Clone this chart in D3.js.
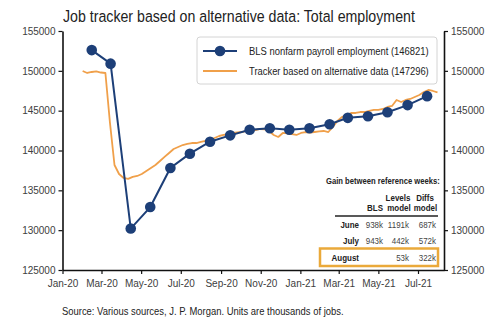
<!DOCTYPE html>
<html>
<head>
<meta charset="utf-8">
<script src="https://cdn.jsdelivr.net/npm/d3@7"></script>
<style>
  body { margin: 0; background: #fff; }
  svg { display: block; font-family: "Liberation Sans", Arial, sans-serif; }
</style>
</head>
<body>
<div id="chart"></div>
<script>
// BLS nonfarm payroll (thousands), reference month
const blsMonths = ["2020-02", "2020-03", "2020-04", "2020-05", "2020-06", "2020-07", "2020-08", "2020-09",
  "2020-10", "2020-11", "2020-12", "2021-01", "2021-02", "2021-03", "2021-04", "2021-05", "2021-06", "2021-07"];
const blsValues = [152600, 150900, 130200, 132900, 137800, 139600, 141100, 141900,
  142600, 142800, 142600, 142800, 143300, 144100, 144300, 144800, 145700, 146821];

// Alternative data tracker, weekly from 1 Feb 2020
const trackerStart = "2020-02-01";
const trackerValues = [
  149980, 149730, 149855, 149920, 149790, 149730, 143500, 138180, 137050, 136550,
  136430, 136680, 136800, 137050, 137430, 137810, 138180, 138680, 139190, 139690,
  140190, 140440, 140690, 140820, 140940, 140940, 141070, 141200, 141320, 141570,
  141820, 141950, 142070, 142200, 142260, 142320, 142450, 142510, 142570, 142700,
  142640, 142450, 141950, 141700, 142200, 142140, 142070, 141950, 142200, 142320,
  142260, 142320, 142390, 142450, 142320, 142950, 143700, 144200, 144460, 144710,
  144710, 144830, 144830, 144960, 145090, 145090, 145210, 145460, 145590, 146340,
  146090, 146340, 146470, 146720, 146970, 147340, 147600, 147470, 147296];

const yTicks = [125000, 130000, 135000, 140000, 145000, 150000, 155000];
const xTickMonths = ["2020-01", "2020-03", "2020-05", "2020-07", "2020-09", "2020-11",
  "2021-01", "2021-03", "2021-05", "2021-07"];

const seriesNames = ["BLS nonfarm payroll employment (146821)", "Tracker based on alternative data (147296)"];

// Table of gains between reference weeks
const tableMonths = ["June", "July", "August"];
const tableBLS = ["938k", "943k", ""];
const tableLevels = ["1191k", "442k", "53k"];
const tableDiffs = ["687k", "572k", "322k"];

const navy = "#1d3f78";
const orange = "#f0a04a";

const width = 500, height = 323;
const parseMonth = d3.timeParse("%Y-%m");
const parseDay = d3.timeParse("%Y-%m-%d");

const blsData = blsMonths.map((m, i) => ({date: d3.timeDay.offset(parseMonth(m), 14), value: blsValues[i]}));
const trackerData = trackerValues.map((v, i) => ({date: d3.timeWeek.offset(parseDay(trackerStart), i), value: v}));

const svg = d3.select("#chart").append("svg")
  .attr("width", width)
  .attr("height", height);

// squeeze a text horizontally so it spans the given width (narrow font look)
function fitText(sel, x, y, w) {
  sel.each(function() {
    const k = w / this.getComputedTextLength();
    d3.select(this).attr("transform", `translate(${x},${y}) scale(${k},1)`);
  });
}

// small table text, narrow look, anchored at x
function narrowText(g, str, x, y, anchor, bold, colour) {
  return g.append("text")
    .attr("transform", `translate(${x},${y}) scale(0.84,1)`)
    .attr("text-anchor", anchor)
    .attr("font-weight", bold ? "bold" : "normal")
    .attr("fill", colour)
    .text(str);
}

// Scales
const x = d3.scaleTime()
  .domain([parseDay("2020-01-01"), parseDay("2021-08-10")])
  .range([62.5, 444]);

const y = d3.scaleLinear()
  .domain([125000, 155000])
  .range([270, 31]);

// Title
svg.append("text")
  .attr("font-size", 16.5)
  .attr("fill", "#222")
  .text("Job tracker based on alternative data: Total employment")
  .call(fitText, 63, 21.5, 352);

// Axes
function styleAxis(g) {
  g.selectAll(".domain").attr("stroke", "#111").attr("stroke-width", 1.6);
  g.selectAll(".tick line").attr("stroke", "#111").attr("stroke-width", 1.2);
  g.selectAll(".tick text").attr("fill", "#404040").attr("font-size", 10)
    .attr("font-family", "Liberation Sans, Arial, sans-serif");
}

svg.append("g")
  .attr("transform", "translate(62.5,0)")
  .call(d3.axisLeft(y).tickValues(yTicks).tickSize(4).tickSizeOuter(0).tickFormat(d3.format("d")))
  .call(styleAxis);

svg.append("g")
  .attr("transform", "translate(444,0)")
  .call(d3.axisRight(y).tickValues(yTicks).tickSize(4).tickSizeOuter(0).tickFormat(d3.format("d")))
  .call(styleAxis);

svg.append("g")
  .attr("transform", "translate(0,270)")
  .call(d3.axisBottom(x).tickValues(xTickMonths.map(parseMonth)).tickSize(4).tickSizeOuter(0)
    .tickFormat(d3.timeFormat("%b-%y")))
  .call(styleAxis)
  .call(g => g.selectAll(".tick text").attr("dy", "0.95em"));

// Lines
const line = d3.line()
  .x(d => x(d.date))
  .y(d => y(d.value));

svg.append("path")
  .datum(trackerData)
  .attr("fill", "none")
  .attr("stroke", orange)
  .attr("stroke-width", 1.8)
  .attr("stroke-linejoin", "round")
  .attr("d", line);

svg.append("path")
  .datum(blsData)
  .attr("fill", "none")
  .attr("stroke", navy)
  .attr("stroke-width", 2)
  .attr("d", line);

svg.append("g")
  .selectAll("circle")
  .data(blsData)
  .enter().append("circle")
  .attr("cx", d => x(d.date))
  .attr("cy", d => y(d.value))
  .attr("r", 5.3)
  .attr("fill", navy);

// Legend
const legend = svg.append("g");
legend.append("rect")
  .attr("x", 197).attr("y", 37)
  .attr("width", 240).attr("height", 47)
  .attr("rx", 3)
  .attr("fill", "#fff").attr("fill-opacity", 0.85)
  .attr("stroke", "#d4d4d4");

legend.append("line")
  .attr("x1", 203).attr("x2", 237).attr("y1", 51).attr("y2", 51)
  .attr("stroke", navy).attr("stroke-width", 2);
legend.append("circle")
  .attr("cx", 220).attr("cy", 51).attr("r", 5.3).attr("fill", navy);
legend.append("line")
  .attr("x1", 203).attr("x2", 237).attr("y1", 71).attr("y2", 71)
  .attr("stroke", orange).attr("stroke-width", 1.8);

seriesNames.forEach((name, i) => {
  legend.append("text")
    .attr("font-size", 11)
    .attr("fill", "#222")
    .text(name)
    .call(fitText, 249, 55 + i * 20, 180);
});

// Gains table
const table = svg.append("g")
  .attr("font-size", 9.5)
  .attr("fill", "#222");

table.append("text")
  .attr("font-weight", "bold")
  .text("Gain between reference weeks:")
  .call(fitText, 326, 184, 114);

narrowText(table, "Levels", 398, 201, "middle", true, "#222");
narrowText(table, "Diffs", 425, 201, "middle", true, "#222");
narrowText(table, "BLS", 375, 211, "middle", true, "#222");
narrowText(table, "model", 399, 211, "middle", true, "#222");
narrowText(table, "model", 425.5, 211, "middle", true, "#222");

table.append("line")
  .attr("x1", 335).attr("x2", 438).attr("y1", 216).attr("y2", 216)
  .attr("stroke", "#222").attr("stroke-width", 1.3);

const rowY = [227.5, 243.5, 260.5];
tableMonths.forEach((m, i) => {
  narrowText(table, m, 359, rowY[i], "end", true, "#222");
  narrowText(table, tableBLS[i], 383, rowY[i], "end", false, "#444");
  narrowText(table, tableLevels[i], 409, rowY[i], "end", false, "#444");
  narrowText(table, tableDiffs[i], 436, rowY[i], "end", false, "#444");
});

// highlight box round the latest month
table.append("rect")
  .attr("x", 320).attr("y", 248.5)
  .attr("width", 118).attr("height", 17.5)
  .attr("fill", "none")
  .attr("stroke", "#eaa93a")
  .attr("stroke-width", 2.5);

// Source note
svg.append("text")
  .attr("font-size", 10.5)
  .attr("fill", "#222")
  .text("Source: Various sources, J. P. Morgan. Units are thousands of jobs.")
  .call(fitText, 62, 315, 282);
</script>
</body>
</html>
